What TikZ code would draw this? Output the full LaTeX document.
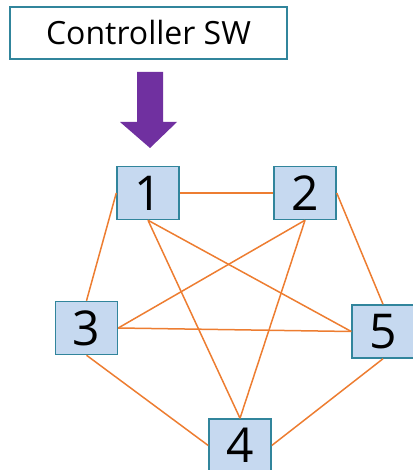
\documentclass[tikz,border=0pt]{standalone}
\usepackage{fontspec}
\setmainfont{Open Sans}
\definecolor{boxfill}{RGB}{198,217,240}
\definecolor{boxline}{RGB}{49,133,156}
\definecolor{edge}{RGB}{237,125,49}
\definecolor{arrowc}{RGB}{112,48,160}
\begin{document}
\begin{tikzpicture}[x=1pt,y=-1pt,
  sw/.style={draw=boxline,line width=1.5pt,fill=boxfill,minimum width=62pt,minimum height=53pt,inner sep=0pt,font=\fontsize{48}{48}\selectfont},
  link/.style={draw=edge,line width=1.5pt}]
\useasboundingbox (0,0) rectangle (412,470);
\node[draw=boxline,line width=1.5pt,fill=white,minimum width=277pt,minimum height=52pt,inner sep=0pt,font=\fontsize{32}{32}\selectfont] (ctrl) at (148.5,33) {Controller SW};
\fill[arrowc] (137,72) -- (163,72) -- (163,122) -- (177,122) -- (150,148) -- (120,122) -- (137,122) -- cycle;
\node[sw] (n1) at (148,193) {1};
\node[sw] (n2) at (305,193) {2};
\node[sw] (n3) at (86.5,328) {3};
\node[sw] (n5) at (383,331.5) {5};
\node[sw] (n4) at (240,445.5) {4};
\draw[link,line width=2pt] (n1.east) -- (n2.west);
\draw[link] (n1.west) -- (n3.north);
\draw[link] (n1.south) -- (n4.north);
\draw[link] (n1.south) -- (n5.west);
\draw[link] (n2.south) -- (n3.east);
\draw[link] (n2.south) -- (n4.north);
\draw[link] (n2.east) -- (n5.north);
\draw[link] (n3.east) -- (n5.west);
\draw[link] (n3.south) -- (n4.west);
\draw[link] (n5.south) -- (n4.east);
\end{tikzpicture}
\end{document}
